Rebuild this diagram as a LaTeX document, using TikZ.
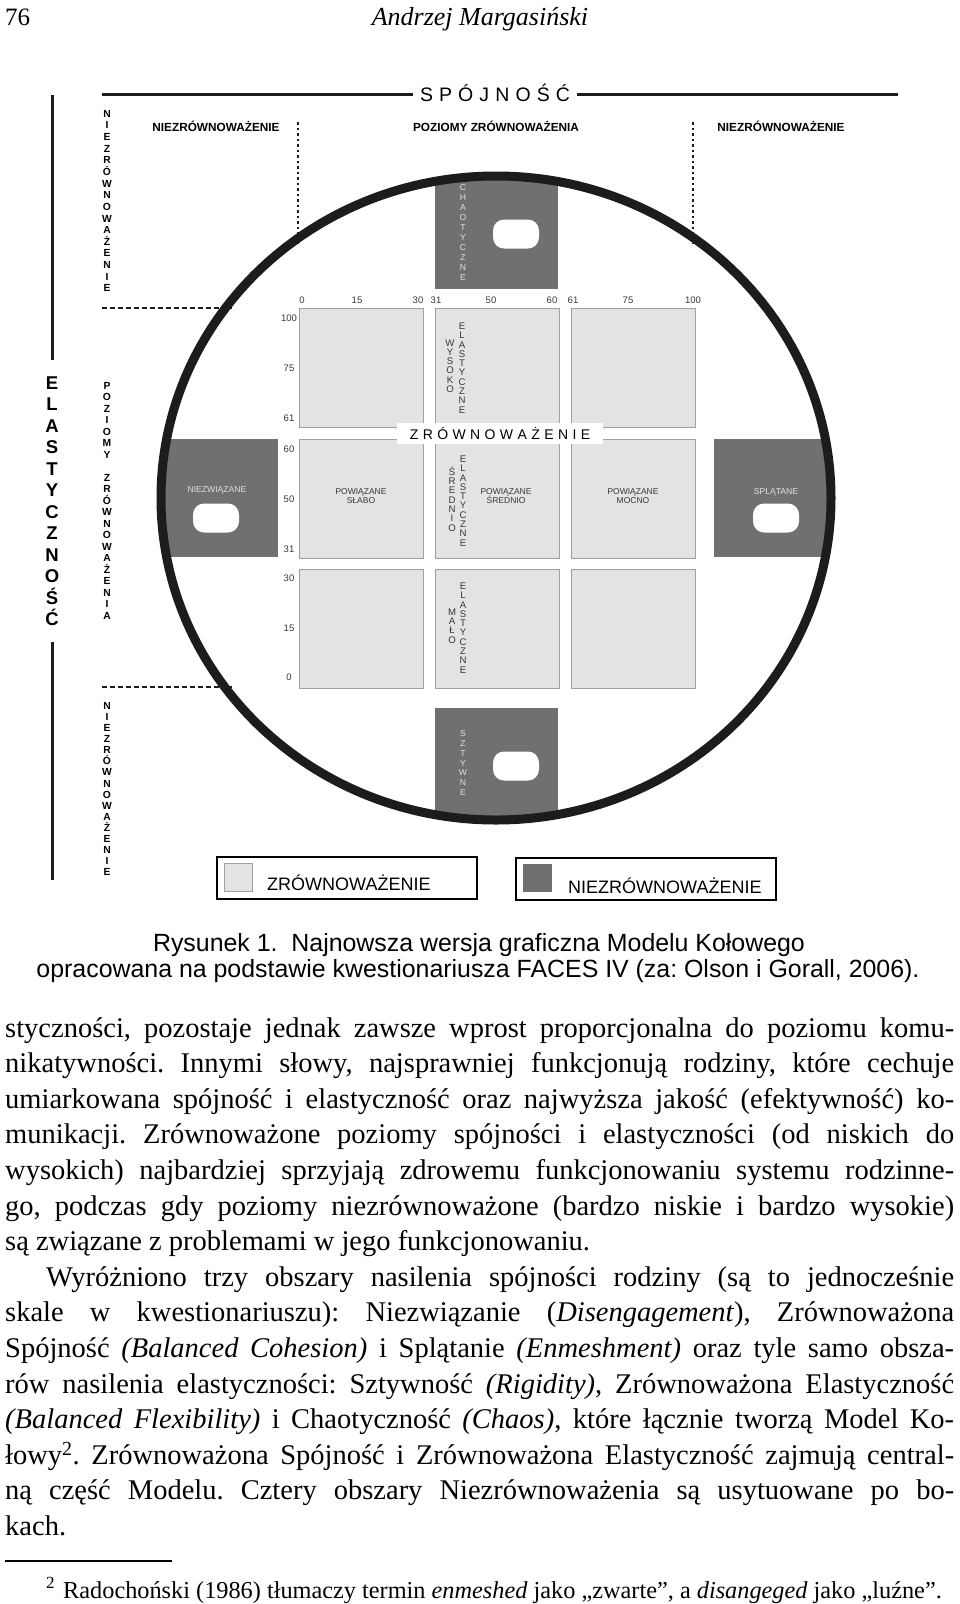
\documentclass[tikz,border=0pt]{standalone}
\usepackage{fontspec}
\setmainfont{Liberation Serif}
\setsansfont{Liberation Sans}
\usetikzlibrary{positioning}
\frenchspacing
\definecolor{darkbox}{RGB}{112,112,112}
\definecolor{lightbox}{RGB}{227,227,227}
\definecolor{boxedge}{RGB}{160,160,160}
\definecolor{ringblack}{RGB}{28,28,28}
\definecolor{inktxt}{RGB}{55,55,55}
\makeatletter
\newcommand\vword[2][9.3pt]{\vbox{\baselineskip=#1\lineskiplimit=-20pt\lineskip=0pt\@tfor\vw@c:=#2\do{\hbox to 1em{\hss\vw@c\hss}}}}
\newcommand\spaced[2]{\def\sp@sep{}\@tfor\sp@c:=#2\do{\sp@sep\sp@c\def\sp@sep{\hspace{#1}}}}
\makeatother
\newcommand\jl[1]{\makebox[949pt][s]{#1}}

\begin{document}
\begin{tikzpicture}[x=1pt,y=-1pt,
  every node/.style={font=\sffamily,inner sep=0pt},
  ring/.style={draw=ringblack,line width=9pt},
  rule/.style={draw=ringblack,line width=3pt},
  lbox/.style={draw=boxedge,fill=lightbox,line width=1.2pt,minimum width=124pt,minimum height=119pt,anchor=north west},
  pill/.style={fill=white,rounded corners=11pt,minimum width=46pt,minimum height=29pt},
  vsmall/.style={text=inktxt,font=\sffamily\fontsize{9.6}{9.6}\selectfont},
  dlab/.style={text=white!88!black,font=\sffamily\fontsize{8.6}{10}\selectfont},
  vbold/.style={font=\sffamily\bfseries\fontsize{10.3}{11.5}\selectfont},
  vbig/.style={font=\sffamily\bfseries\fontsize{18.5}{21.5}\selectfont},
  head/.style={font=\sffamily\bfseries\fontsize{11.8}{14}\selectfont},
  axis/.style={text=inktxt,font=\sffamily\fontsize{9.5}{11}\selectfont},
  pw/.style={align=center,text=inktxt,font=\sffamily\fontsize{8.5}{9.5}\selectfont},
  dotv/.style={draw=ringblack,line width=2.5pt,dash pattern=on 2.5pt off 3pt},
  dashh/.style={draw=ringblack,line width=2pt,dash pattern=on 4.5pt off 3.5pt},
  legbox/.style={draw=black,line width=1.6pt,minimum width=260pt,minimum height=42pt,anchor=north west},
  leg/.style={font=\sffamily\fontsize{18}{20}\selectfont},
  captxt/.style={anchor=base,font=\sffamily\fontsize{24.9}{27}\selectfont}]
\useasboundingbox (0,0) rectangle (960,1604);
\node[anchor=base west,font=\rmfamily\fontsize{25}{28}\selectfont] (pgno) at (5,25) {76};
\node[anchor=base,font=\rmfamily\itshape\fontsize{26}{28}\selectfont] (runhd) at (480,25) {Andrzej Margasiński};
\node[anchor=base,inner xsep=7pt,font=\sffamily\fontsize{19.5}{22}\selectfont] (spoj) at (495,101) {\spaced{6.1pt}{SPÓJNOŚĆ}};
\coordinate (spL) at (102,94);
\coordinate (spR) at (898,94);
\draw[rule] (spL) -- (spL -| spoj.west);
\draw[rule] (spoj.east |- spR) -- (spR);
\node[vbig,inner ysep=16.5pt] (elast) at (52,501) {\vword[21.5pt]{ELASTYCZNOŚĆ}};
\coordinate (elTop) at (52,95);
\coordinate (elBot) at (52,880);
\draw[rule] (elTop) -- (elTop |- elast.north);
\draw[rule] (elast.south -| elBot) -- (elBot);
\node[head] (hdL) at (216,126) {NIEZRÓWNOWAŻENIE};
\node[head] (hdM) at (496,126) {POZIOMY ZRÓWNOWAŻENIA};
\node[head] (hdR) at (781,126) {NIEZRÓWNOWAŻENIE};
\node[vbold] (nzT) at (107,201) {\vword[11.65pt]{NIEZRÓWNOWAŻENIE}};
\node[vbold] (pzM) at (107,500.5) {\vword[11.5pt]{POZIOMY~ZRÓWNOWAŻENIA}};
\node[vbold] (nzB) at (107,789) {\vword[11.1pt]{NIEZRÓWNOWAŻENIE}};
\draw[dotv] (298,122) -- (298,244);
\draw[dotv] (693,122) -- (693,244);
\draw[dashh] (102,308) -- (232,308);
\draw[dashh] (102,687) -- (232,687);
\begin{scope}
\clip (496,498) ellipse [x radius=335pt,y radius=322pt];
\fill[darkbox] (435,150) rectangle (558,289);
\fill[darkbox] (435,708) rectangle (558,850);
\fill[darkbox] (140,439) rectangle (278,557);
\fill[darkbox] (714,439) rectangle (850,557);
\end{scope}
\draw[ring] (496,498) ellipse [x radius=335pt,y radius=322pt];
\node[dlab] (chaot) at (463,232.5) {\vword[9.9pt]{CHAOTYCZNE}};
\node[pill] (pillT) at (516,234) {};
\node[dlab] (sztyw) at (463,763) {\vword[9.9pt]{SZTYWNE}};
\node[pill] (pillB) at (516,766) {};
\node[dlab] (niezw) at (217,490) {NIEZWIĄZANE};
\node[pill] (pillL) at (216,518) {};
\node[dlab] (splat) at (776,492) {SPLĄTANE};
\node[pill] (pillR) at (776,518) {};
\foreach \c/\x in {1/299,2/435,3/571}
  \foreach \r/\y in {1/308,2/439,3/569}
    \node[lbox] (cell\c\r) at (\x,\y) {};
\foreach \v/\x in {0/302,15/357,30/418,31/436,50/491,60/552,61/573,75/628,100/693}
  \node[axis] (top\v) at (\x,300) {\v};
\foreach \v/\y in {100/318,75/368,61/418,60/449,50/499,31/549,30/578,15/628,0/677}
  \node[axis] (lft\v) at (289,\y) {\v};
\node[fill=white,minimum width=206pt,minimum height=21pt,font=\sffamily\fontsize{14}{16}\selectfont] (zrbar) at (500,433.5) {\spaced{4.4pt}{ZRÓWNOWAŻENIE}};
\node[vsmall] (wys) at (450,366) {\vword{WYSOKO}};
\node[vsmall] (el1) at (462,368) {\vword{ELASTYCZNE}};
\node[vsmall] (sre) at (452,499) {\vword{ŚREDNIO}};
\node[vsmall] (el2) at (463,501) {\vword{ELASTYCZNE}};
\node[vsmall] (malo) at (452,626) {\vword{MAŁO}};
\node[vsmall] (el3) at (463,628) {\vword{ELASTYCZNE}};
\node[pw] (pwS) at (361,496) {POWIĄZANE\\SŁABO};
\node[pw] (pwM) at (506,496) {POWIĄZANE\\ŚREDNIO};
\node[pw] (pwD) at (633,496) {POWIĄZANE\\MOCNO};
\node[legbox] (legZ) at (216,856) {};
\node[legbox] (legN) at (515,857) {};
\node[fill=lightbox,draw=boxedge,line width=1pt,minimum size=28pt] (swZ) at (238,877) {};
\node[fill=darkbox,minimum width=29pt,minimum height=28pt] (swN) at (537.5,878) {};
\node[leg,anchor=base west] (txZ) at (267,890.5) {ZRÓWNOWAŻENIE};
\node[leg,anchor=base west] (txN) at (568,893.5) {NIEZRÓWNOWAŻENIE};
\node[captxt] (cap1) at (479,951) {Rysunek 1.\ \ Najnowsza wersja graficzna Modelu Kołowego};
\node[captxt] (cap2) at (478,977) {opracowana na podstawie kwestionariusza FACES IV (za: Olson i Gorall, 2006).};
\node[anchor=north west,align=left,font=\rmfamily\fontsize{28.5}{35.6}\selectfont] (body) at (5,1017) {%
\jl{styczności, pozostaje jednak zawsze wprost proporcjonalna do poziomu komu-}\\
\jl{nikatywności. Innymi słowy, najsprawniej funkcjonują rodziny, które cechuje}\\
\jl{umiarkowana spójność i elastyczność oraz najwyższa jakość (efektywność) ko-}\\
\jl{munikacji. Zrównoważone poziomy spójności i elastyczności (od niskich do}\\
\jl{wysokich) najbardziej sprzyjają zdrowemu funkcjonowaniu systemu rodzinne-}\\
\jl{go, podczas gdy poziomy niezrównoważone (bardzo niskie i bardzo wysokie)}\\
są związane z problemami w jego funkcjonowaniu.\\
\jl{\hspace*{41pt}Wyróżniono trzy obszary nasilenia spójności rodziny (są to jednocześnie}\\
\jl{skale w kwestionariuszu): Niezwiązanie (\textit{Disengagement}), Zrównoważona}\\
\jl{Spójność \textit{(Balanced Cohesion)} i Splątanie \textit{(Enmeshment)} oraz tyle samo obsza-}\\
\jl{rów nasilenia elastyczności: Sztywność \textit{(Rigidity)}, Zrównoważona Elastyczność}\\
\jl{\textit{(Balanced Flexibility)} i Chaotyczność \textit{(Chaos)}, które łącznie tworzą Model Ko-}\\
\jl{łowy\textsuperscript{2}. Zrównoważona Spójność i Zrównoważona Elastyczność zajmują central-}\\
\jl{ną część Modelu. Cztery obszary Niezrównoważenia są usytuowane po bo-}\\
kach.};
\coordinate (fnL) at (5,1561);
\coordinate (fnR) at (172,1561);
\draw[line width=1.3pt] (fnL) -- (fnR);
\node[anchor=base west,font=\rmfamily\fontsize{24.3}{26}\selectfont] (fnote) at (46,1598) {\textsuperscript{2}\hspace{8pt}Radochoński (1986) tłumaczy termin \textit{enmeshed} jako „zwarte”, a \textit{disangeged} jako „luźne”.};
\end{tikzpicture}
\end{document}
